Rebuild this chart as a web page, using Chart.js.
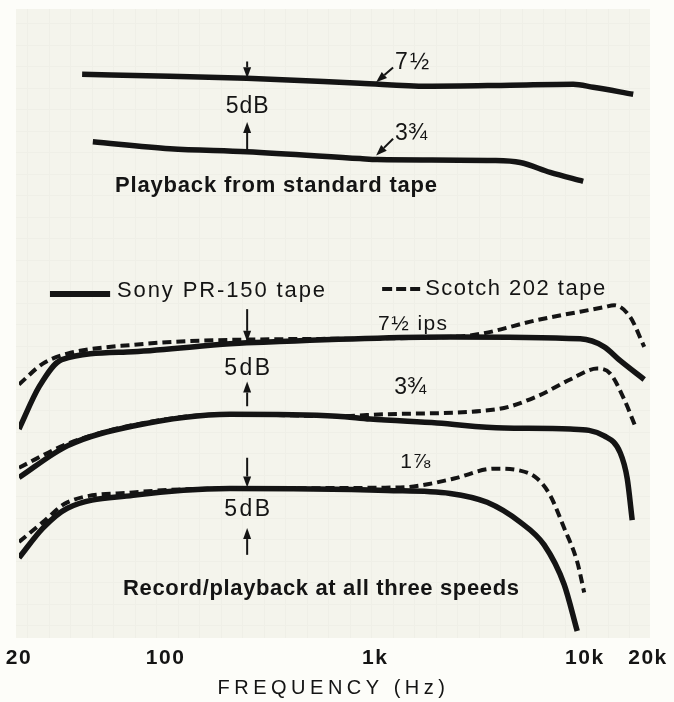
<!DOCTYPE html>
<html>
<head>
<meta charset="utf-8">
<script src="https://cdn.jsdelivr.net/npm/chart.js@4.4.1/dist/chart.umd.min.js"></script>
<style>
  html, body { margin: 0; padding: 0; background: #fdfdf9; }
  canvas { display: block; }
</style>
</head>
<body>
<canvas id="c" width="674" height="702"></canvas>
<script>
// ---------- data (frequency in Hz, relative level in dB on an offset scale) ----------
const FREQ_TICKS = [20, 100, 1000, 10000, 20000];
const TICK_LABELS = ['20', '100', '1k', '10k', '20k'];

// Playback from standard tape
const pb75Freq  = [40, 105, 244, 847, 1768, 4401, 8795, 10955, 17000];
const pb75Level = [57.3, 57.1, 56.9, 56.4, 56.1, 56.2, 56.3, 56.0, 55.3];
const pb375Freq  = [45, 105, 244, 847, 1021, 3651, 4913, 6831, 9815];
const pb375Level = [50.5, 49.8, 49.5, 48.8, 48.7, 48.6, 48.4, 47.4, 46.5];

// Record/playback, Sony PR-150 tape (solid)
const sony75Freq  = [20, 25, 32, 70, 203, 244, 2277, 9497, 12363, 14742, 19187];
const sony75Level = [21.5, 25.8, 28.5, 29.3, 30.1, 30.2, 30.8, 30.6, 29.8, 28.4, 26.5];
const sony375Freq  = [20, 34, 70, 203, 658, 945, 1974, 4121, 8509, 12363, 14742, 15918, 16817];
const sony375Level = [16.6, 19.8, 21.8, 23.0, 22.8, 22.5, 22.1, 21.6, 21.5, 20.8, 19.1, 16.5, 12.3];
const sony178Freq  = [20, 26, 34, 70, 203, 1139, 2277, 3418, 4913, 6395, 7965, 9191];
const sony178Level = [8.5, 11.5, 13.5, 14.8, 15.5, 15.3, 15.0, 14.1, 12.1, 9.8, 5.8, 1.1];

// Record/playback, Scotch 202 tape (dashed)
const scotch75Freq  = [20, 26, 34, 70, 203, 2277, 3166, 5921, 12363, 13797, 16452, 19187];
const scotch75Level = [26.0, 28.1, 29.1, 30.0, 30.5, 30.8, 31.1, 32.5, 33.8, 34.0, 32.8, 29.8];
const scotch375Freq  = [20, 34, 70, 203, 658, 1139, 3815, 5921, 8509, 11450, 13204, 15398, 17378];
const scotch375Level = [17.6, 20.0, 21.9, 23.0, 22.8, 23.0, 23.5, 24.8, 26.5, 27.6, 27.1, 24.5, 21.8];
const scotch178Freq  = [20, 26, 34, 70, 203, 1315, 1638, 2379, 3692, 4913, 5921, 6831, 7965, 9191, 9924];
const scotch178Level = [10.1, 12.1, 14.1, 15.1, 15.5, 15.6, 15.8, 16.5, 17.5, 17.3, 16.5, 14.8, 11.5, 8.1, 5.0];

// ---------- annotations (anchored in data coordinates) ----------
const LABELS = [
  { text: '5dB', f: 245, v: 54.0, align: 'center', size: 23, width: 43 },
  { text: '7½', f: 1244, v: 58.5, align: 'left', size: 23, width: 34 },
  { text: '3¾', f: 1244, v: 51.3, align: 'left', size: 23 },
  { text: 'Playback from standard tape', f: 57.4, v: 46.0, align: 'left', size: 22, bold: true, width: 322 },
  { text: '7½ ips', f: 1032, v: 32.1, align: 'left', size: 21, width: 69 },
  { text: '5dB', f: 245, v: 27.6, align: 'center', size: 23, width: 46 },
  { text: '3¾', f: 1231, v: 25.7, align: 'left', size: 23 },
  { text: '5dB', f: 245, v: 13.4, align: 'center', size: 23, width: 46 },
  { text: '1⅞', f: 1315, v: 18.2, align: 'left', size: 21, width: 30 },
  { text: 'Record/playback at all three speeds', f: 62.7, v: 5.4, align: 'left', size: 22, bold: true, width: 396 }
];
const ARROWS = [ // tail -> tip
  { f1: 245, v1: 58.6, f2: 245, v2: 56.9 },
  { f1: 245, v1: 49.6, f2: 245, v2: 52.5 },
  { f1: 1217, v1: 58.0, f2: 1010, v2: 56.5 },
  { f1: 1217, v1: 50.8, f2: 1010, v2: 49.1 },
  { f1: 245, v1: 33.6, f2: 245, v2: 30.3 },
  { f1: 245, v1: 23.8, f2: 245, v2: 26.3 },
  { f1: 245, v1: 18.6, f2: 245, v2: 15.6 },
  { f1: 245, v1: 8.8, f2: 245, v2: 11.5 }
];
const LEGEND = [
  { text: 'Sony PR-150 tape', f1: 28.1, f2: 54.4, v: 35.1, tf: 58.7, tv: 35.4, width: 208, dataset: 5 },
  { text: 'Scotch 202 tape', f1: 1079, f2: 1711, v: 35.6, tf: 1730, tv: 35.6, width: 180, dataset: 2 }
];

// ---------- styling ----------
const INK = '#141414';
const FONT = '"Liberation Sans", Arial, Helvetica, sans-serif';
const pts = (fs, vs) => fs.map((f, i) => ({ x: f, y: vs[i] }));
const SOLID = { borderColor: INK, backgroundColor: INK, borderWidth: 5.5, borderDash: [], borderCapStyle: 'butt' };
const DASHED = { borderColor: INK, backgroundColor: INK, borderWidth: 4, borderDash: [9, 5], borderCapStyle: 'butt' };

function drawLabel(ctx, chart, a) {
  const sx = chart.scales.x, sy = chart.scales.y;
  let x = sx.getPixelForValue(a.f);
  const y = sy.getPixelForValue(a.v);
  ctx.save();
  ctx.font = (a.bold ? 'bold ' : '') + a.size + 'px ' + FONT;
  ctx.fillStyle = INK;
  ctx.textBaseline = 'middle';
  ctx.textAlign = 'left';
  ctx.letterSpacing = '0px';
  const n = Array.from(a.text).length;
  const w0 = ctx.measureText(a.text).width;
  const sp = a.width ? (a.width - w0) / Math.max(1, n - 1) : 0;
  ctx.letterSpacing = sp.toFixed(2) + 'px';
  if (a.align === 'center') x -= (a.width || w0) / 2;
  ctx.fillText(a.text, x, y);
  ctx.restore();
}

function drawArrow(ctx, x1, y1, x2, y2) {
  const head = 11, half = 4;
  const dx = x2 - x1, dy = y2 - y1, L = Math.hypot(dx, dy) || 1;
  const ux = dx / L, uy = dy / L;
  const bx = x2 - ux * head, by = y2 - uy * head;
  ctx.save();
  ctx.strokeStyle = INK; ctx.fillStyle = INK; ctx.lineWidth = 2;
  ctx.beginPath(); ctx.moveTo(x1, y1); ctx.lineTo(bx, by); ctx.stroke();
  ctx.beginPath();
  ctx.moveTo(x2, y2);
  ctx.lineTo(bx - uy * half, by + ux * half);
  ctx.lineTo(bx + uy * half, by - ux * half);
  ctx.closePath(); ctx.fill();
  ctx.restore();
}

const paperPlugin = {
  id: 'paper',
  beforeDraw(chart) {
    const ctx = chart.ctx, ca = chart.chartArea;
    ctx.save();
    ctx.fillStyle = '#fdfdf9';
    ctx.fillRect(0, 0, chart.width, chart.height);
    const L = ca.left - 3, R = ca.right + 2, T = ca.top + 1, B = ca.bottom - 4;
    ctx.fillStyle = '#f4f4ec';
    ctx.fillRect(L, T, R - L, B - T);
    ctx.strokeStyle = '#efefe7';
    ctx.lineWidth = 1;
    for (let x = L + 11; x < R; x += 21.5) { ctx.beginPath(); ctx.moveTo(Math.round(x) + 0.5, T); ctx.lineTo(Math.round(x) + 0.5, B); ctx.stroke(); }
    for (let y = T + 14; y < B; y += 21.5) { ctx.beginPath(); ctx.moveTo(L, Math.round(y) + 0.5); ctx.lineTo(R, Math.round(y) + 0.5); ctx.stroke(); }
    ctx.restore();

    // letter spacing for axis text (drawn by the library)
    const s = chart.scales.x;
    if (s && !s._spaced) {
      const origTitle = s.drawTitle.bind(s), origLabels = s.drawLabels.bind(s);
      s.drawTitle = function () { const c = this.ctx; c.save(); c.letterSpacing = '4.5px'; origTitle(); c.restore(); };
      s.drawLabels = function (a) { const c = this.ctx; c.save(); c.letterSpacing = '1.5px'; origLabels(a); c.restore(); };
      s._spaced = true;
    }
  }
};

const annotationPlugin = {
  id: 'annotations',
  afterDatasetsDraw(chart) {
    const ctx = chart.ctx, sx = chart.scales.x, sy = chart.scales.y;
    ARROWS.forEach(a => drawArrow(ctx, sx.getPixelForValue(a.f1), sy.getPixelForValue(a.v1),
                                       sx.getPixelForValue(a.f2), sy.getPixelForValue(a.v2)));
    LABELS.forEach(a => drawLabel(ctx, chart, a));
    LEGEND.forEach(item => {
      const ds = chart.data.datasets[item.dataset];
      const y = Math.round(sy.getPixelForValue(item.v));
      ctx.save();
      ctx.strokeStyle = ds.borderColor;
      ctx.lineWidth = ds.borderDash.length ? 4 : 6;
      ctx.setLineDash(ds.borderDash.length ? [10, 4] : []);
      ctx.beginPath();
      ctx.moveTo(sx.getPixelForValue(item.f1), y);
      ctx.lineTo(sx.getPixelForValue(item.f2), y);
      ctx.stroke();
      ctx.restore();
      drawLabel(ctx, chart, { text: item.text, f: item.tf, v: item.tv, align: 'left', size: 22, width: item.width });
    });
  }
};

const datasets = [
  { label: 'Playback 7½ ips (standard tape)', data: pts(pb75Freq, pb75Level), ...SOLID },
  { label: 'Playback 3¾ ips (standard tape)', data: pts(pb375Freq, pb375Level), ...SOLID },
  { label: 'Scotch 202 tape 7½ ips', data: pts(scotch75Freq, scotch75Level), ...DASHED },
  { label: 'Scotch 202 tape 3¾ ips', data: pts(scotch375Freq, scotch375Level), ...DASHED },
  { label: 'Scotch 202 tape 1⅞ ips', data: pts(scotch178Freq, scotch178Level), ...DASHED },
  { label: 'Sony PR-150 tape 7½ ips', data: pts(sony75Freq, sony75Level), ...SOLID },
  { label: 'Sony PR-150 tape 3¾ ips', data: pts(sony375Freq, sony375Level), ...SOLID },
  { label: 'Sony PR-150 tape 1⅞ ips', data: pts(sony178Freq, sony178Level), ...SOLID }
];

new Chart(document.getElementById('c'), {
  type: 'scatter',
  data: { datasets },
  options: {
    responsive: false,
    animation: false,
    devicePixelRatio: 1,
    layout: { padding: { left: 19, right: 26, top: 8, bottom: 2 } },
    datasets: { scatter: { showLine: true, pointRadius: 0, pointHoverRadius: 0, fill: false, cubicInterpolationMode: 'monotone' } },
    plugins: { legend: { display: false }, tooltip: { enabled: false } },
    scales: {
      x: {
        type: 'logarithmic',
        min: 20, max: 20000,
        grid: { display: false, drawTicks: false },
        border: { display: false },
        afterBuildTicks: s => { s.ticks = FREQ_TICKS.map(v => ({ value: v })); },
        ticks: {
          autoSkip: false, maxRotation: 0, minRotation: 0, padding: 6,
          color: INK,
          font: { family: FONT, size: 21, weight: 'bold', lineHeight: 1 },
          callback: (v, i) => TICK_LABELS[i]
        },
        title: {
          display: true, text: 'FREQUENCY (Hz)', color: INK,
          font: { family: FONT, size: 20, weight: 'normal', lineHeight: 1 },
          padding: { top: 3, bottom: 2 }
        }
      },
      y: { type: 'linear', min: 0, max: 64, display: false }
    }
  },
  plugins: [paperPlugin, annotationPlugin]
});
</script>
</body>
</html>
